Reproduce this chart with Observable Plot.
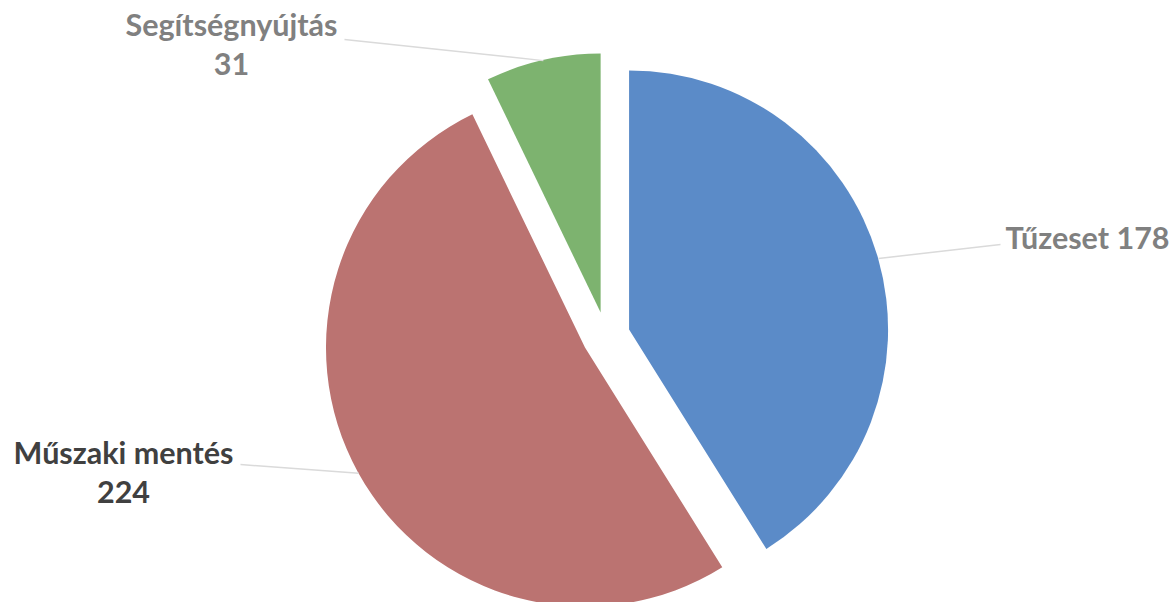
<!DOCTYPE html>
<html>
<head>
<meta charset="utf-8">
<script src="https://cdn.jsdelivr.net/npm/d3@7"></script>
<script src="https://cdn.jsdelivr.net/npm/@observablehq/plot@0.6"></script>
<style>
  html, body { margin: 0; padding: 0; background: #fff; }
  #chart svg { display: block; }
</style>
</head>
<body>
<div id="chart"></div>
<script>
// ---- data ----
const categories = ["Tűzeset", "Műszaki mentés", "Segítségnyújtás"];
const values = [178, 224, 31];
const colors = ["#5b8bc8", "#bb7371", "#7db36f"];
const labelColors = ["#808080", "#404040", "#808080"];
const labelTexts = ["Tűzeset 178", "Műszaki mentés\n224", "Segítségnyújtás\n31"];

// ---- layout (pixels) ----
const W = 1170, H = 602;
const cx = 606, cy = 336, R = 259, explode = 24;
// label block anchor and leader-line end per slice
const labelLayout = [
  {x: 1005, y: 236, anchor: "start", lineAnchor: "middle", lx: 1000, ly: 244},
  {x: 123, y: 436, anchor: "middle", lineAnchor: "top", lx: 240, ly: 464},
  {x: 231, y: 8, anchor: "middle", lineAnchor: "top", lx: 344, ly: 39}
];

const table = categories.map((c, i) => ({category: c, value: values[i], color: colors[i]}));
const arcs = d3.pie().sort(null).value(d => d.value)(table);
const geo = arcs.map((a, i) => {
  const mid = (a.startAngle + a.endAngle) / 2;
  const ox = cx + explode * Math.sin(mid), oy = cy - explode * Math.cos(mid);
  return {
    ...a, mid, ox, oy,
    px: ox + R * Math.sin(mid), py: oy - R * Math.cos(mid),
    ...labelLayout[i], text: labelTexts[i], tcolor: labelColors[i]
  };
});

function pieMark() {
  const g = d3.create("svg:g");
  const arc = d3.arc().innerRadius(0).outerRadius(R);
  g.selectAll("path")
    .data(geo)
    .join("path")
    .attr("transform", d => `translate(${d.ox},${d.oy})`)
    .attr("d", d => arc(d))
    .attr("fill", d => d.data.color);
  return g.node();
}

const chart = Plot.plot({
  width: W, height: H, margin: 0,
  x: {type: "identity", axis: null},
  y: {type: "identity", axis: null},
  style: {background: "#fff", fontFamily: "Lato, sans-serif"},
  marks: [
    pieMark,
    Plot.link(geo, {x1: "px", y1: "py", x2: "lx", y2: "ly", stroke: "#dadada", strokeWidth: 1.5}),
    ...geo.map(d => Plot.text([d], {
      x: "x", y: "y", text: "text", fill: "tcolor",
      textAnchor: d.anchor, lineAnchor: d.lineAnchor, lineHeight: 1.28,
      fontSize: 30.5, fontWeight: "bold"
    }))
  ]
});
document.getElementById("chart").append(chart);
</script>
</body>
</html>
